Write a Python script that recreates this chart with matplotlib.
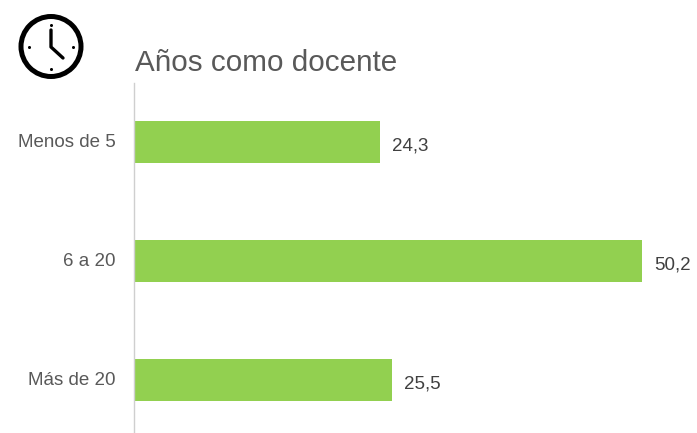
import numpy as np
import matplotlib
matplotlib.use("Agg")
from matplotlib import pyplot as plt
from matplotlib.patches import Circle
from matplotlib.transforms import ScaledTranslation

categories = ['Menos de 5', '6 a 20', 'Más de 20']
values = [24.3, 50.2, 25.5]
value_labels = ['24,3', '50,2', '25,5']

plt.rcParams['font.family'] = ['Liberation Sans', 'DejaVu Sans']

W, H = 697, 433
fig = plt.figure(figsize=(W/100, H/100), dpi=100)

# axes spans the grey axis line, px coords from the picture
left, right, top, bottom = 134, 697, 83, 433
ax = fig.add_axes([left/W, 1-bottom/H, (right-left)/W, (bottom-top)/H])
y = np.arange(len(categories))
ax.barh(y, values, height=0.353, color='#92D050')
ax.set_xlim(0, 55.6)
ax.set_ylim(2.445, -0.496)
ax.set_yticks(y)
ax.set_yticklabels(categories, fontsize=13.5, color='#595959')
ax.tick_params(axis='y', length=0, pad=13.4)
# labels sit a pixel above the bar centre in the reference
for t in ax.get_yticklabels():
    t.set_transform(t.get_transform() + ScaledTranslation(0, 1.5/100, fig.dpi_scale_trans))
ax.set_xticks([])
for s in ['top', 'right', 'bottom']:
    ax.spines[s].set_visible(False)
ax.spines['left'].set_color('#CFCFCF')
ax.spines['left'].set_linewidth(1.0)

for yi, v, lab in zip(y, values, value_labels):
    ax.annotate(lab, (v, yi), xytext=(12, -3.5), textcoords='offset pixels',
                va='center', ha='left', fontsize=13.5, color='#404040', annotation_clip=False)

fig.text(135/W, 1-63/H, 'Años como docente', fontsize=21.3, color='#595959', va='center', ha='left')

# clock icon
ic = fig.add_axes([0, 1-90/H, 100/W, 90/H])
ic.set_xlim(0, 100)
ic.set_ylim(90, 0)
ic.axis('off')
ic.add_patch(Circle((51, 46.5), 30, fill=False, ec='black', lw=3.6))
ic.plot([51, 51, 63], [30, 47, 58], color='black', lw=2.4, solid_capstyle='round', solid_joinstyle='round')
for dx, dy in [(0, -22), (0, 22), (-22, 0), (22, 0)]:
    ic.plot(51+dx, 46.5+dy, 'o', color='black', ms=2.2, mew=0)

fig.savefig('out.png', dpi=100)
